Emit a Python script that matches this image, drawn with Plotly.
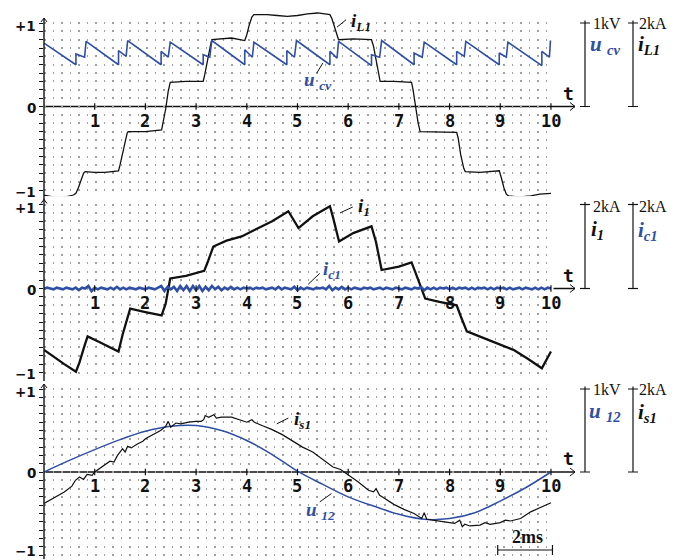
import numpy as np
import plotly.graph_objects as go

# ---------------- data ----------------
t_tick_vals = [1, 2, 3, 4, 5, 6, 7, 8, 9, 10]
t_tick_text = ["1", "2", "3", "4", "5", "6", "7", "8", "9", "10"]
y_label_vals = [-1.0, 0.0, 1.0]
y_label_text = ["\u22121", "0", "+1"]
y_minor_vals = [-0.9, -0.8, -0.7, -0.6, -0.5, -0.4, -0.3, -0.2, -0.1,
                0.1, 0.2, 0.3, 0.4, 0.5, 0.6, 0.7, 0.8, 0.9]

# panel 1 : u_cv (blue) and i_L1 (black)
ucv_t = [0.00, 0.63, 0.63, 0.80, 0.83, 1.47, 1.47, 1.62, 1.65, 2.31, 2.31, 2.45, 2.49,
         3.14, 3.14, 3.27, 3.31, 3.96, 3.96, 4.11, 4.14, 4.79, 4.79, 4.94, 4.98,
         5.64, 5.64, 5.78, 5.81, 6.46, 6.46, 6.62, 6.66, 7.30, 7.30, 7.46, 7.50,
         8.14, 8.14, 8.29, 8.32, 8.98, 8.98, 9.12, 9.15, 9.82, 9.82, 9.97, 9.99]
ucv_v = [0.76, 0.50, 0.63, 0.59, 0.78, 0.50, 0.67, 0.60, 0.79, 0.50, 0.66, 0.59, 0.77,
         0.50, 0.62, 0.59, 0.79, 0.50, 0.68, 0.59, 0.77, 0.50, 0.67, 0.59, 0.79,
         0.50, 0.66, 0.58, 0.78, 0.49, 0.62, 0.59, 0.79, 0.50, 0.64, 0.59, 0.77,
         0.50, 0.66, 0.60, 0.78, 0.50, 0.64, 0.59, 0.77, 0.49, 0.66, 0.59, 0.79]

iL1_t = [0.00, 0.15, 0.30, 0.45, 0.58, 0.63, 0.68, 0.74, 0.78, 0.81, 1.00, 1.20, 1.47,
         1.50, 1.55, 1.60, 1.64, 1.66, 2.00, 2.32, 2.35, 2.40, 2.45, 2.49, 2.80, 3.14,
         3.17, 3.22, 3.28, 3.31, 3.50, 3.70, 3.96, 4.00, 4.05, 4.10, 4.14, 4.40, 4.60,
         4.80, 5.00, 5.20, 5.40, 5.60, 5.64, 5.68, 5.73, 5.78, 5.81, 6.10, 6.46, 6.50,
         6.55, 6.60, 6.63, 6.90, 7.25, 7.28, 7.33, 7.38, 7.42, 7.80, 8.14, 8.17, 8.22,
         8.28, 8.31, 8.60, 8.98, 9.02, 9.07, 9.12, 9.16, 9.30, 9.45, 9.60, 9.78, 10.00]
iL1_v = [-1.06, -1.08, -1.09, -1.08, -1.06, -1.04, -0.97, -0.87, -0.80, -0.78, -0.79,
         -0.79, -0.77, -0.70, -0.55, -0.40, -0.32, -0.30, -0.30, -0.28, -0.20, -0.03,
         0.18, 0.29, 0.30, 0.30, 0.38, 0.55, 0.72, 0.80, 0.81, 0.82, 0.79, 0.86, 0.98,
         1.07, 1.10, 1.10, 1.09, 1.08, 1.09, 1.11, 1.12, 1.11, 1.10, 1.05, 0.95, 0.84,
         0.80, 0.81, 0.80, 0.72, 0.55, 0.36, 0.30, 0.30, 0.29, 0.20, 0.00, -0.20, -0.30,
         -0.31, -0.31, -0.38, -0.58, -0.74, -0.78, -0.79, -0.77, -0.85, -0.97, -1.05,
         -1.07, -1.08, -1.08, -1.07, -1.05, -1.04]

# panel 2 : i_1 (black) and i_c1 (blue)
i1_t = [0.00, 0.20, 0.40, 0.63, 0.70, 0.80, 0.86, 1.10, 1.30, 1.47, 1.55, 1.65, 1.70,
        2.00, 2.32, 2.40, 2.46, 2.49, 2.80, 3.16, 3.22, 3.30, 3.34, 3.60, 3.90, 4.16,
        4.50, 4.82, 5.02, 5.30, 5.64, 5.70, 5.78, 5.82, 6.10, 6.46, 6.55, 6.64, 6.66,
        7.00, 7.25, 7.32, 7.45, 7.52, 7.80, 8.14, 8.22, 8.30, 8.34, 8.80, 9.26, 9.55,
        9.82, 10.00]
i1_v = [-0.73, -0.82, -0.90, -0.99, -0.88, -0.68, -0.57, -0.64, -0.70, -0.75, -0.55,
        -0.32, -0.24, -0.28, -0.32, -0.18, 0.05, 0.12, 0.15, 0.21, 0.30, 0.44, 0.50,
        0.57, 0.62, 0.70, 0.80, 0.92, 0.72, 0.86, 0.98, 0.85, 0.65, 0.56, 0.66, 0.74,
        0.55, 0.30, 0.22, 0.26, 0.31, 0.20, 0.00, -0.12, -0.16, -0.20, -0.33, -0.46,
        -0.51, -0.62, -0.73, -0.84, -0.95, -0.75]

# i_c1 ripple, in hundredths of full scale, sampled every 0.0625 time units
ic1_centi = [0, 1, 0, -1, 1, 0, -1, 1, 0, -1,
             1, -2, 1, 0, 3, -3, 1,
             -1, 1, 0, -1, 1, -1, 2, -1,
             1, -1, 1, 0, -1, 1, 0, -1, 1, 0, -1, 1,
             3, -3, 2, -1,
             2, -3, 3, -2, 3, -3, 3, -2, 3, -3, 2, -2, 3, -1,
             2, -2, 1, -1, 2, -1, 1, -1, 1, 0,
             1, -1, 1, 0, 1, -1, 0, 1,
             -1, 2, -1, 1, 0, -1, 2, -2,
             1, -1, 1, 0, -1, 1, 0, 1, -1,
             3, -2, 1, -1, 2, -1, 1,
             -1, 1, 0, -1, 1, 0, 1, -1, 0, 1, -1, 1, 0, -1, 1, 0, -1, 1, 0, -1, 1, 0,
             2, -2, 1,
             -1, 1, -1, 1, 0, 1, -1, 1, -1, 1, 0, 1, -1,
             1, -1, 1, 0, 1, -1, 1, -1, 1, 0, 1, -1, 1, -1, 0, 1, -1, 1, 0, -1, 1, -1,
             1, -1, 1, 0]

# panel 3 : u_12 (blue) and i_s1 (black)
u12_t = [0.0, 0.5, 1.0, 1.5, 2.0, 2.5, 3.0, 3.5, 4.0, 4.5, 5.0,
         5.5, 6.0, 6.5, 7.0, 7.5, 8.0, 8.5, 9.0, 9.5, 10.0]
u12_v = [0.00, 0.14, 0.27, 0.39, 0.49, 0.55, 0.56, 0.50, 0.38, 0.21, 0.01,
         -0.15, -0.30, -0.41, -0.51, -0.57, -0.56, -0.49, -0.35, -0.19, 0.00]

is1_t = [0.00, 0.20, 0.40, 0.55, 0.62, 0.70, 0.78, 0.85, 0.95, 1.00, 1.10, 1.20, 1.30,
         1.38, 1.45, 1.55, 1.60, 1.65, 1.72, 1.85, 1.95, 2.00, 2.15, 2.30, 2.40, 2.45,
         2.50, 2.55, 2.60, 2.70, 2.85, 3.00, 3.10, 3.15, 3.18, 3.25, 3.35, 3.40, 3.50,
         3.70, 3.90, 4.00, 4.10, 4.15, 4.30, 4.50, 4.70, 4.90, 5.10, 5.30, 5.50, 5.70,
         5.85, 6.00, 6.20, 6.40, 6.50, 6.55, 6.62, 6.70, 6.90, 7.10, 7.30, 7.45, 7.50,
         7.55, 7.70, 7.90, 8.10, 8.20, 8.25, 8.30, 8.40, 8.60, 8.70, 8.80, 9.00, 9.10,
         9.20, 9.40, 9.60, 9.80, 10.00]
is1_v = [-0.38, -0.31, -0.24, -0.17, -0.10, -0.06, -0.09, -0.03, -0.04, 0.00, 0.04,
         0.09, 0.13, 0.12, 0.20, 0.28, 0.24, 0.31, 0.29, 0.34, 0.37, 0.40, 0.45, 0.50,
         0.55, 0.61, 0.54, 0.56, 0.59, 0.58, 0.60, 0.61, 0.61, 0.63, 0.68, 0.66, 0.69,
         0.65, 0.66, 0.66, 0.62, 0.60, 0.63, 0.60, 0.56, 0.51, 0.45, 0.37, 0.30, 0.24,
         0.15, 0.06, 0.03, -0.03, -0.12, -0.22, -0.24, -0.20, -0.28, -0.31, -0.39,
         -0.45, -0.50, -0.56, -0.49, -0.57, -0.58, -0.60, -0.62, -0.58, -0.66, -0.63,
         -0.65, -0.64, -0.61, -0.63, -0.61, -0.58, -0.59, -0.56, -0.48, -0.42, -0.37]

# ---------------- layout geometry (pixels) ----------------
W, H = 681, 560
X0, X1 = 44.0, 553.5
T_RANGE = [0, 10.05]
# (zero line px, px per unit, range low, range high)
PANELS = [(106.5, 83.5, -1.12, 1.16), (288.5, 84.0, -1.10, 1.10), (472.0, 83.0, -1.05, 1.10)]
BLUE = "#2f4fa6"
BLACK = "#111111"
GRID = "#a0a0a0"
MONO = "DejaVu Sans Mono"
SANS = "DejaVu Sans"
SERIF = "Liberation Serif"
LABEL_SHIFT = {1.0: -3, 0.0: -1, -1.0: -1.5}


def px(x):
    return x / W


def ydom(z, s, lo, hi):
    top = z - hi * s
    bot = z - lo * s
    return [1 - bot / H, 1 - top / H]


ic1_t = np.linspace(0, 10, len(ic1_centi))
ic1_v = np.array(ic1_centi) / 100.0

fig = go.Figure()
fig.add_trace(go.Scatter(x=iL1_t, y=iL1_v, mode="lines", line=dict(color=BLACK, width=1.3),
                         xaxis="x", yaxis="y", hoverinfo="skip"))
fig.add_trace(go.Scatter(x=ucv_t, y=ucv_v, mode="lines", line=dict(color=BLUE, width=1.6),
                         xaxis="x", yaxis="y", hoverinfo="skip"))
fig.add_trace(go.Scatter(x=i1_t, y=i1_v, mode="lines", line=dict(color=BLACK, width=2.3),
                         xaxis="x", yaxis="y2", hoverinfo="skip"))
fig.add_trace(go.Scatter(x=ic1_t, y=ic1_v, mode="lines", line=dict(color=BLUE, width=2.6),
                         xaxis="x", yaxis="y2", hoverinfo="skip"))
fig.add_trace(go.Scatter(x=u12_t, y=u12_v, mode="lines", line=dict(color=BLUE, width=1.5, shape="spline"),
                         xaxis="x", yaxis="y3", hoverinfo="skip"))
fig.add_trace(go.Scatter(x=is1_t, y=is1_v, mode="lines", line=dict(color=BLACK, width=1.2),
                         xaxis="x", yaxis="y3", hoverinfo="skip"))

grid_style = dict(showgrid=True, gridcolor=GRID, gridwidth=1.6, griddash="1.6px,6.9px")
yaxis_common = dict(anchor="x", tickmode="array", tickvals=y_label_vals, showticklabels=False,
                    ticks="outside", ticklen=4, tickwidth=1, tickcolor=BLACK,
                    zeroline=False, showline=False,
                    minor=dict(tickmode="array", tickvals=y_minor_vals, ticks="outside", ticklen=4,
                               tickwidth=1, tickcolor=BLACK, **grid_style),
                    **grid_style)
layout = dict(width=W, height=H, margin=dict(l=0, r=0, t=0, b=0),
              paper_bgcolor="white", plot_bgcolor="white", showlegend=False,
              xaxis=dict(domain=[px(X0), px(X1)], range=T_RANGE, showgrid=False, zeroline=False,
                         showline=False, showticklabels=False, ticks=""))
for k, (z, s, lo, hi) in enumerate(PANELS):
    name = "yaxis" if k == 0 else "yaxis%d" % (k + 1)
    layout[name] = dict(yaxis_common, domain=ydom(z, s, lo, hi), range=[lo, hi])
fig.update_layout(**layout)

shapes = []
annotations = []
yrefs = ["y", "y2", "y3"]
for k, (z, s, lo, hi) in enumerate(PANELS):
    yr = yrefs[k]
    a = 4.0 / s  # 4 px in data units
    # vertical axis with arrow
    shapes.append(dict(type="line", xref="paper", yref=yr, x0=px(X0), x1=px(X0), y0=lo, y1=1.06,
                       line=dict(color=BLACK, width=1.4)))
    shapes.append(dict(type="path", xref="paper", yref=yr,
                       path="M %f,%f L %f,%f L %f,%f" % (px(X0 - 3), 1.06 - a, px(X0), 1.06, px(X0 + 3), 1.06 - a),
                       line=dict(color=BLACK, width=1)))
    # vertical axis labels
    for yv, yl in zip(y_label_vals, y_label_text):
        shift = LABEL_SHIFT[yv]
        if k == 2 and yv == -1.0:
            shift = 4  # keep the bottom label inside the picture
        annotations.append(dict(x=px(X0 - 6), y=yv, xref="paper", yref=yr, text="<b>%s</b>" % yl,
                                showarrow=False, xanchor="right", yanchor="middle",
                                yshift=shift, font=dict(family=SANS, size=13.5, color=BLACK)))
    # time axis with arrow
    shapes.append(dict(type="line", xref="paper", yref=yr, x0=px(X0), x1=px(575), y0=0, y1=0,
                       line=dict(color=BLACK, width=1.5), layer="between"))
    shapes.append(dict(type="path", xref="paper", yref=yr,
                       path="M %f,%f L %f,%f L %f,%f" % (px(570), a, px(575), 0, px(570), -a),
                       line=dict(color=BLACK, width=1)))
    for tv in t_tick_vals:
        shapes.append(dict(type="line", xref="x", yref=yr, x0=tv, x1=tv, y0=-0.04, y1=0.04,
                           line=dict(color=BLACK, width=1.2)))
    # scale bars on the right
    for xb in (585, 633):
        shapes.append(dict(type="line", xref="paper", yref=yr, x0=px(xb), x1=px(xb), y0=0, y1=1.03,
                           line=dict(color=BLACK, width=1.2)))
        for yy in (0, 1):
            shapes.append(dict(type="line", xref="paper", yref=yr, x0=px(xb - 5), x1=px(xb + 5), y0=yy, y1=yy,
                               line=dict(color=BLACK, width=1.2)))
    # time tick labels
    for tv, tl in zip(t_tick_vals, t_tick_text):
        annotations.append(dict(x=tv, y=0, xref="x", yref=yr, text="<b>%s</b>" % tl, showarrow=False,
                                yanchor="top", xanchor="center", yshift=-2,
                                font=dict(family=MONO, size=17, color=BLACK)))
    annotations.append(dict(x=px(568), y=0, xref="paper", yref=yr, text="<b>t</b>", showarrow=False,
                            yanchor="bottom", xanchor="center", yshift=1,
                            font=dict(family=MONO, size=18, color=BLACK)))


def lab(x, y, yr, text, color, xref="x", size=19, xanchor="center"):
    annotations.append(dict(x=x, y=y, xref=xref, yref=yr, text=text, showarrow=False,
                            xanchor=xanchor, yanchor="middle",
                            font=dict(family=SERIF, size=size, color=color)))


def bi(main, sub):
    return "<b><i>%s</i></b><sub><b><i>%s</i></b></sub>" % (main, sub)


def bi_sp(main, sub):
    return "<b><i>%s</i></b> <sub><b><i>%s</i></b></sub>" % (main, sub)


# right-hand scale legends
lab(px(591), 1.0, "y", "1kV", BLACK, xref="paper", size=16, xanchor="left")
lab(px(637), 1.0, "y", "2kA", BLACK, xref="paper", size=16, xanchor="left")
lab(px(588), 0.74, "y", bi_sp("u", "cv"), BLUE, xref="paper", size=21, xanchor="left")
lab(px(636), 0.74, "y", bi("i", "L1"), BLACK, xref="paper", size=21, xanchor="left")
lab(px(591), 0.98, "y2", "2kA", BLACK, xref="paper", size=16, xanchor="left")
lab(px(637), 0.98, "y2", "2kA", BLACK, xref="paper", size=16, xanchor="left")
lab(px(589), 0.70, "y2", bi("i", "1"), BLACK, xref="paper", size=21, xanchor="left")
lab(px(636), 0.68, "y2", bi("i", "c1"), BLUE, xref="paper", size=21, xanchor="left")
lab(px(591), 1.0, "y3", "1kV", BLACK, xref="paper", size=16, xanchor="left")
lab(px(637), 1.0, "y3", "2kA", BLACK, xref="paper", size=16, xanchor="left")
lab(px(587), 0.72, "y3", bi_sp("u", "12"), BLUE, xref="paper", size=21, xanchor="left")
lab(px(636), 0.71, "y3", bi("i", "s1"), BLACK, xref="paper", size=21, xanchor="left")

# curve labels with leader lines
lab(6.25, 1.01, "y", bi("i", "L1"), BLACK)
lab(5.40, 0.31, "y", bi_sp("u", "cv"), BLUE)
lab(6.31, 0.97, "y2", bi("i", "1"), BLACK)
lab(5.68, 0.22, "y2", bi("i", "c1"), BLUE)
lab(5.09, 0.63, "y3", bi("i", "s1"), BLACK)
lab(5.45, -0.47, "y3", bi_sp("u", "12"), BLUE)
leaders = [("y", 5.78, 0.95, 5.96, 1.04), ("y", 5.38, 0.40, 5.50, 0.52),
           ("y2", 5.84, 0.90, 6.09, 0.97), ("y2", 5.21, 0.05, 5.44, 0.18),
           ("y3", 4.59, 0.58, 4.82, 0.65), ("y3", 5.44, -0.36, 5.67, -0.26)]
for yr, xa, ya, xb, yb in leaders:
    shapes.append(dict(type="line", xref="x", yref=yr, x0=xa, y0=ya, x1=xb, y1=yb,
                       line=dict(color=BLACK, width=1)))

# 2 ms scale bar
annotations.append(dict(x=9.53, y=-0.78, xref="x", yref="y3", text="<b>2ms</b>", showarrow=False,
                        font=dict(family=SERIF, size=18, color=BLACK)))
shapes.append(dict(type="line", xref="x", yref="y3", x0=8.95, x1=10.03, y0=-0.94, y1=-0.94,
                   line=dict(color=BLACK, width=1.2)))
for xe in (8.95, 10.03):
    shapes.append(dict(type="line", xref="x", yref="y3", x0=xe, x1=xe, y0=-0.88, y1=-1.0,
                       line=dict(color=BLACK, width=1.2)))

fig.update_layout(shapes=shapes, annotations=annotations)
fig.write_html("out.html")
